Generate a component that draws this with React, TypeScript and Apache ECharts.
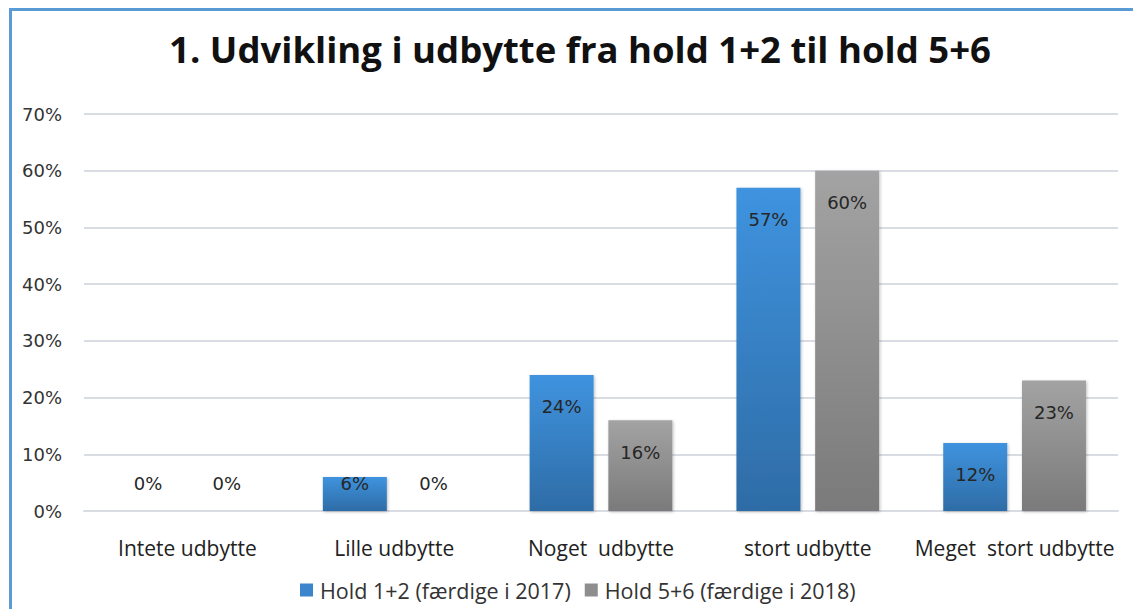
import React, { useEffect, useRef } from "react";
import * as echarts from "echarts";

const titleText = "1. Udvikling i udbytte fra hold 1+2 til hold 5+6";
const categories = ["Intete udbytte", "Lille udbytte", "Noget  udbytte", "stort udbytte", "Meget  stort udbytte"];
const seriesNames = ["Hold 1+2 (færdige i 2017)", "Hold 5+6 (færdige i 2018)"];
const hold12 = [0, 6, 24, 57, 12];
const hold56 = [0, 0, 16, 60, 23];
const yTicks = [0, 10, 20, 30, 40, 50, 60, 70];

const blueGrad = new echarts.graphic.LinearGradient(0, 0, 0, 1, [
  { offset: 0, color: "#3F93DF" },
  { offset: 1, color: "#2E6CA6" },
]);
const grayGrad = new echarts.graphic.LinearGradient(0, 0, 0, 1, [
  { offset: 0, color: "#A3A3A3" },
  { offset: 1, color: "#7A7A7A" },
]);

function makeData(values: number[]) {
  return values.map((v) => {
    if (v === 0) {
      return { value: v, label: { position: "top", distance: 19 } };
    }
    if (v < 10) {
      return { value: v, label: { position: "insideTop", distance: -2 } };
    }
    return { value: v };
  });
}

export default function App() {
  const ref = useRef<HTMLDivElement>(null);
  useEffect(() => {
    const chart = echarts.init(ref.current!, null, { renderer: "svg" });
    const labelFont = "'DejaVu Sans', Verdana, sans-serif";
    const textFont = "'Open Sans', Calibri, sans-serif";
    const dataLabel = {
      show: true,
      position: "insideTop",
      distance: 23,
      formatter: "{c}%",
      fontFamily: labelFont,
      fontSize: 18,
      color: "#262626",
    };
    chart.setOption({
      animation: false,
      backgroundColor: "#ffffff",
      title: {
        text: titleText,
        left: 575,
        textAlign: "center",
        top: 25,
        textStyle: { fontFamily: textFont, fontWeight: "bold", fontSize: 36.5, color: "#111111" },
      },
      graphic: [
        {
          type: "rect",
          shape: { x: 10.5, y: 9.5, width: 1200, height: 700 },
          style: { fill: "none", stroke: "#5B9BD5", lineWidth: 3 },
          silent: true,
        },
      ],
      legend: {
        bottom: 3,
        left: 295,
        itemWidth: 13,
        itemHeight: 13,
        itemGap: 14,
        icon: "rect",
        textStyle: { fontFamily: textFont, fontSize: 21.5, color: "#333333", padding: [0, 0, 0, 2] },
        data: [
          { name: seriesNames[0], itemStyle: { color: "#3A85CC" } },
          { name: seriesNames[1], itemStyle: { color: "#8E8E8E" } },
        ],
      },
      grid: { left: 84, right: 15, top: 114, bottom: 98, containLabel: false },
      xAxis: {
        type: "category",
        data: categories,
        axisLine: { lineStyle: { color: "#D9DDE3", width: 2 } },
        axisTick: { show: false },
        axisLabel: { interval: 0, hideOverlap: false, margin: 26, fontFamily: textFont, fontSize: 21, color: "#222222" },
      },
      yAxis: {
        type: "value",
        min: 0,
        max: yTicks[yTicks.length - 1],
        interval: 10,
        axisLabel: {
          formatter: "{value}%",
          margin: 22,
          fontFamily: labelFont,
          fontSize: 18,
          color: "#333333",
        },
        axisLine: { show: false },
        axisTick: { show: false },
        splitLine: { lineStyle: { color: "#D9DDE3", width: 2 } },
      },
      series: [
        {
          name: seriesNames[0],
          type: "bar",
          data: makeData(hold12),
          barWidth: 64,
          barGap: "23%",
          itemStyle: { color: blueGrad, shadowBlur: 3, shadowColor: "rgba(0,0,0,0.25)", shadowOffsetX: 1, shadowOffsetY: 1 },
          label: dataLabel,
        },
        {
          name: seriesNames[1],
          type: "bar",
          data: makeData(hold56),
          barWidth: 64,
          itemStyle: { color: grayGrad, shadowBlur: 3, shadowColor: "rgba(0,0,0,0.25)", shadowOffsetX: 1, shadowOffsetY: 1 },
          label: dataLabel,
        },
      ],
    });
    return () => chart.dispose();
  }, []);
  return (
    <div
      ref={ref}
      style={{ position: "fixed", left: 0, top: 0, width: 1133, height: 609, background: "#fff" }}
    />
  );
}
